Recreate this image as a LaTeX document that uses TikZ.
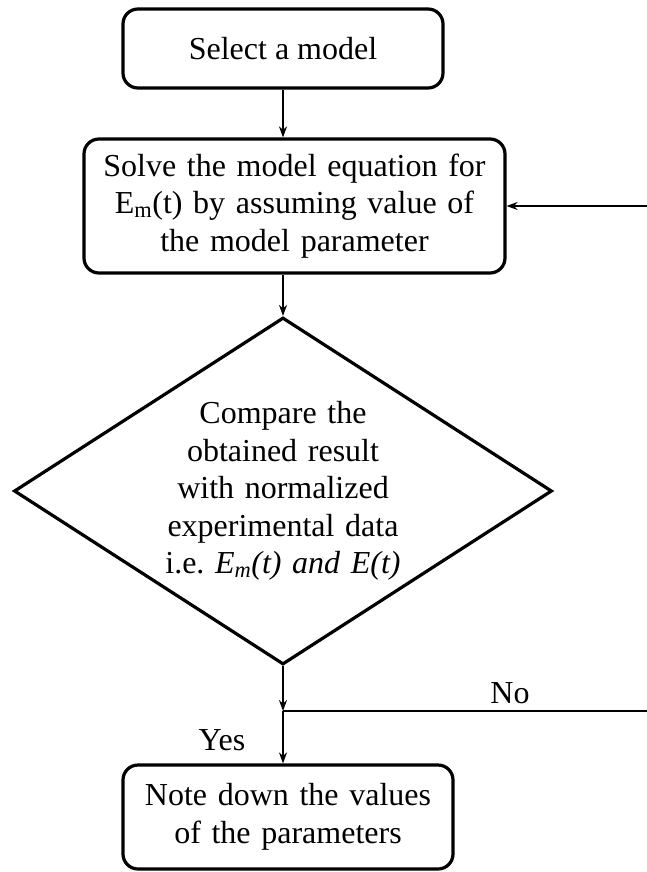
\documentclass[tikz,border=0pt]{standalone}
\usepackage{fontspec}
\setmainfont{Liberation Serif}
\usetikzlibrary{arrows.meta,shapes.geometric}
\tikzset{
  procbox/.style={draw, line width=3.2pt, rounded corners=15pt, align=center, inner sep=0pt},
  decbox/.style={draw, diamond, line width=3.2pt, align=center, inner sep=0pt, shape aspect=1.55},
  arr/.style={line width=2.2pt, -{Stealth[length=11pt,width=8pt]}}
}

\begin{document}
\begin{tikzpicture}[x=1pt,y=-1pt,font=\fontsize{32}{37.5}\selectfont]
\useasboundingbox (0,0) rectangle (647,872);
\node [procbox, minimum width=320pt, minimum height=79pt] (select) at (283,48.5) {Select a model};
\node [procbox, minimum width=421pt, minimum height=134pt, text width=405pt] (solve) at (294.5,206)
  {Solve the model equation for\\E\textsubscript{m}(t) by assuming value of\\the model parameter};
\node [decbox, minimum width=538pt, minimum height=347pt, text width=245pt] (compare) at (283,491)
  {Compare the\\obtained result\\with normalized\\experimental data\\i.e.\ \textit{E\textsubscript{m}(t) and E(t)}};
\node [procbox, minimum width=330pt, minimum height=104pt, text width=320pt] (note) at (288,817)
  {Note down the values\\of the parameters};
\coordinate (join) at (283,711);
\coordinate (edge) at (649,711);

\draw [arr] (select.south) -- (select.south |- solve.north);
\draw [arr] (select.south |- solve.south) -- (compare.north);
\draw [arr] (compare.south) -- (join);
\draw [arr] (join) -- (join |- note.north);
\draw [arr] (join) -- (edge) -- (edge |- solve.east) -- (solve.east);

\node (no) at (510,693) {No};
\node (yes) at (222,740) {Yes};
\end{tikzpicture}
\end{document}
